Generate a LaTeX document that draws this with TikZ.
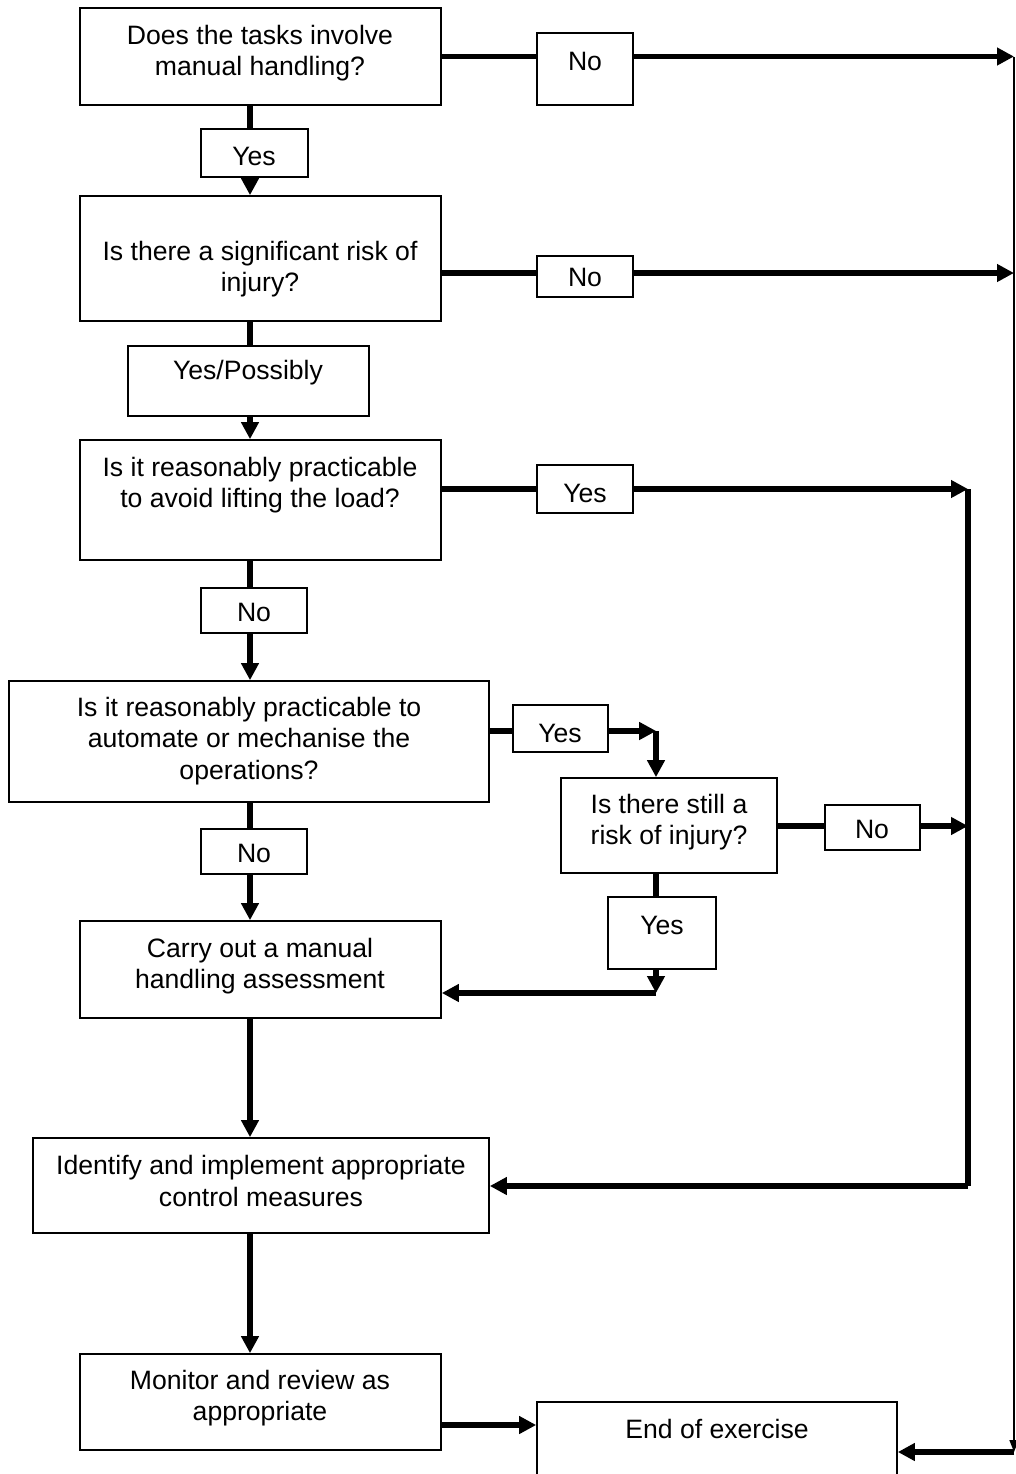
\documentclass[tikz,border=0pt]{standalone}
\usepackage{fontspec}
\setmainfont{Liberation Sans}
\usetikzlibrary{arrows.meta,fit}
\begin{document}
\begin{tikzpicture}[x=0.5pt,y=-0.5pt,
  box/.style={draw,line width=0.85pt,inner sep=0pt,fill=white},
  txt/.style={align=center,font=\fontsize{13.3pt}{15.7pt}\selectfont,inner sep=0pt},
  flow/.style={line width=2.8pt},
  arr/.style={flow,-{Triangle[length=8.5pt,width=8.5pt]}},
  thinarr/.style={line width=0.85pt,-{Triangle[length=6pt,width=4.5pt]}}]
\useasboundingbox (0,0) rectangle (1016,1474);
\clip (0,0) rectangle (1016,1474);
% coordinates for the right-hand rails
\coordinate (R1) at (1014,57);
\coordinate (R2) at (1014,1452);
\coordinate (Q1) at (968,489);
\coordinate (Q2) at (968,1186);
\coordinate (K1) at (656,731);
\coordinate (K2) at (656,993);
% main boxes
\node[box,fit={(80,8) (441,105)}] (A) {};
\node[box,fit={(80,196) (441,321)}] (B) {};
\node[box,fit={(80,440) (441,560)}] (C) {};
\node[box,fit={(9,681) (489,802)}] (D) {};
\node[box,fit={(561,778) (777,873)}] (E) {};
\node[box,fit={(80,921) (441,1018)}] (F) {};
\node[box,fit={(33,1138) (489,1233)}] (G) {};
\node[box,fit={(80,1354) (441,1450)}] (H) {};
\node[box,fit={(537,1402) (897,1490)}] (End) {};
% texts
\node[txt] (At) at (260,53) {Does the tasks involve\\manual handling?};
\node[txt] (Bt) at (260,269) {Is there a significant risk of\\injury?};
\node[txt] (Ct) at (260,485) {Is it reasonably practicable\\to avoid lifting the load?};
\node[txt] (Dt) at (249,741) {Is it reasonably practicable to\\automate or mechanise the\\operations?};
\node[txt] (Et) at (669,822) {Is there still a\\risk of injury?};
\node[txt] (Ft) at (260,966) {Carry out a manual\\handling assessment};
\node[txt] (Gt) at (261,1181) {Identify and implement appropriate\\control measures};
\node[txt] (Ht) at (260,1398) {Monitor and review as\\appropriate};
\node[txt] (Endt) at (717,1429) {End of exercise};
% connectors
\draw[arr] (A.east) -- (A.east -| R1);
\draw[arr] (B.east |- 0,273) -- (1014,273) coordinate (R3);
\draw[arr] (C.east |- Q1) -- (Q1);
\draw[arr] (D.east |- K1) -- ([xshift=0.1pt]K1);
\draw[arr] (K1) -- (E.north -| K1);
\draw[arr] (E.east |- 0,826) -- (968,826) coordinate (Q3);
\draw[arr] (E.south -| K2) -- (K2);
\draw[arr] (K2) -- (F.east |- K2);
\draw[flow] (Q1) -- (Q2);
\draw[arr] (Q2) -- (G.east |- Q2);
\draw[arr] (A.south -| 250,0) -- (B.north -| 250,0);
\draw[arr] (B.south -| 250,0) -- (C.north -| 250,0);
\draw[arr] (C.south -| 250,0) -- (D.north -| 250,0);
\draw[arr] (D.south -| 250,0) -- (F.north -| 250,0);
\draw[arr] (F.south -| 250,0) -- (G.north -| 250,0);
\draw[arr] (G.south -| 250,0) -- (H.north -| 250,0);
\draw[arr] (H.east |- 0,1425) -- (End.west |- 0,1425);
\draw[thinarr] (R1) -- (R2);
\draw[arr] (R2) -- (End.east |- R2);
% label boxes on the connectors
\node[box,fit={(537,33) (633,105)}] (noA) {};
\node[txt] (noAt) at (585,61) {No};
\node[box,fit={(201,129) (308,177)}] (yesA) {};
\node[txt] (yesAt) at (254,156) {Yes};
\node[box,fit={(537,256) (633,297)}] (noB) {};
\node[txt] (noBt) at (585,277) {No};
\node[box,fit={(128,346) (369,416)}] (ypB) {};
\node[txt] (ypBt) at (248,373) {Yes/Possibly};
\node[box,fit={(537,465) (633,513)}] (yesC) {};
\node[txt] (yesCt) at (585,493) {Yes};
\node[box,fit={(201,588) (307,633)}] (noC) {};
\node[txt] (noCt) at (254,612) {No};
\node[box,fit={(513,705) (608,752)}] (yesD) {};
\node[txt] (yesDt) at (560,733) {Yes};
\node[box,fit={(825,805) (920,850)}] (noE) {};
\node[txt] (noEt) at (872,829) {No};
\node[box,fit={(201,829) (307,874)}] (noD) {};
\node[txt] (noDt) at (254,853) {No};
\node[box,fit={(608,897) (716,969)}] (yesE) {};
\node[txt] (yesEt) at (662,925) {Yes};
\end{tikzpicture}
\end{document}
